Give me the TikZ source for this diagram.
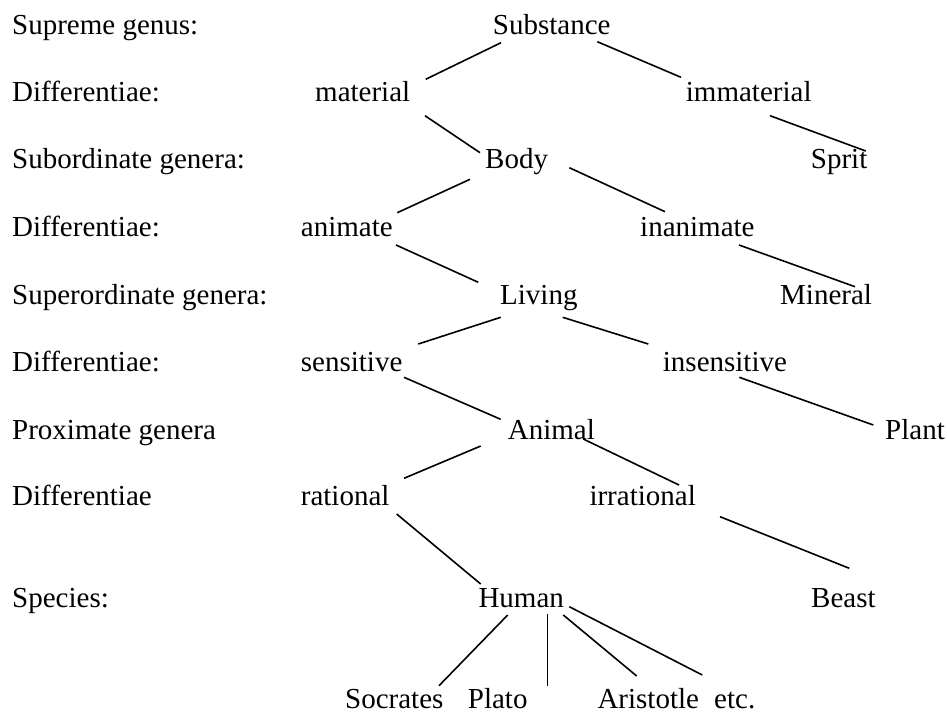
\documentclass[tikz,border=0pt]{standalone}
\usepackage{fontspec}
\setmainfont{Liberation Serif}
\begin{document}
\begin{tikzpicture}[x=1pt,y=-1pt,
  lbl/.style={anchor=base west,inner sep=0pt,font=\fontsize{29}{35}\selectfont},
  conn/.style={line width=1.6pt,line cap=butt}]
\useasboundingbox[fill=white] (0,0) rectangle (947,713);
% left column
\node[lbl] (l1) at (12,34.3) {Supreme genus:};
\node[lbl] (l2) at (12,101.3) {Differentiae:};
\node[lbl] (l3) at (12,168.3) {Subordinate genera:};
\node[lbl] (l4) at (12,236) {Differentiae:};
\node[lbl] (l5) at (12,304.7) {Superordinate genera:};
\node[lbl] (l6) at (12,371.7) {Differentiae:};
\node[lbl] (l7) at (12,439) {Proximate genera};
\node[lbl] (l8) at (12,505.7) {Differentiae};
\node[lbl] (l9) at (12,607.7) {Species:};
% tree
\node[lbl] (sub) at (492.7,34.3) {Substance};
\node[lbl] (mat) at (315,101.3) {material};
\node[lbl] (imm) at (685.7,101.3) {immaterial};
\node[lbl] (body) at (485,168.3) {Body};
\node[lbl] (spr) at (810.7,168.3) {Sprit};
\node[lbl] (ani) at (300.7,236) {animate};
\node[lbl] (inan) at (640,236) {inanimate};
\node[lbl] (liv) at (500,304.7) {Living};
\node[lbl] (min) at (780,304.7) {Mineral};
\node[lbl] (sen) at (300.7,371.7) {sensitive};
\node[lbl] (insen) at (662.7,371.7) {insensitive};
\node[lbl] (anim) at (507.7,439) {Animal};
\node[lbl] (pla) at (885,439) {Plant};
\node[lbl] (rat) at (300.7,505.7) {rational};
\node[lbl] (irr) at (589.3,505.7) {irrational};
\node[lbl] (hum) at (478.3,607.7) {Human};
\node[lbl] (bea) at (811,607.7) {Beast};
\node[lbl] (soc) at (345,708.3) {Socrates};
\node[lbl] (plato) at (467.7,708.3) {Plato};
\node[lbl] (ari) at (597.3,708.3) {Aristotle};
\node[lbl] (etc) at (714,708.3) {etc.};
% connector end points
\coordinate (sub-a) at (501,42.7);   \coordinate (mat-a) at (425.7,79.3);
\coordinate (sub-b) at (597.3,41.7); \coordinate (imm-a) at (681,77.3);
\coordinate (mat-b) at (425,115.7);  \coordinate (body-a) at (480,152.7);
\coordinate (imm-b) at (770,115.7);  \coordinate (spr-a) at (865.7,151);
\coordinate (body-b) at (470,179.3); \coordinate (ani-a) at (397.3,212.7);
\coordinate (body-c) at (569.3,167.7); \coordinate (inan-a) at (665,211.7);
\coordinate (ani-b) at (396,245);    \coordinate (liv-a) at (478.3,282.3);
\coordinate (inan-b) at (739,245);   \coordinate (min-a) at (855,286.7);
\coordinate (liv-b) at (500.7,317.3); \coordinate (sen-a) at (418.3,344);
\coordinate (liv-c) at (562.7,317.3); \coordinate (insen-a) at (648.3,344);
\coordinate (sen-b) at (404,377.3);  \coordinate (anim-a) at (500.7,419.3);
\coordinate (insen-b) at (739.3,377.3); \coordinate (pla-a) at (873.3,425);
\coordinate (anim-b) at (480.7,446); \coordinate (rat-a) at (404,478.3);
\coordinate (anim-c) at (583.3,439); \coordinate (irr-a) at (679,485);
\coordinate (rat-b) at (396.7,514);  \coordinate (hum-a) at (480.7,584);
\coordinate (irr-b) at (720,516.7);  \coordinate (bea-a) at (849.3,568.3);
\coordinate (hum-b) at (507.7,615);  \coordinate (soc-a) at (439,685.7);
\coordinate (hum-c) at (547.3,614.3); \coordinate (plato-a) at (547.3,686);
\coordinate (hum-d) at (563.3,615);  \coordinate (ari-a) at (636.7,676);
\coordinate (hum-e) at (569.3,606.7); \coordinate (etc-a) at (702.3,675);
% connectors
\draw[conn] (sub-a) -- (mat-a);
\draw[conn] (sub-b) -- (imm-a);
\draw[conn] (mat-b) -- (body-a);
\draw[conn] (imm-b) -- (spr-a);
\draw[conn] (body-b) -- (ani-a);
\draw[conn] (body-c) -- (inan-a);
\draw[conn] (ani-b) -- (liv-a);
\draw[conn] (inan-b) -- (min-a);
\draw[conn] (liv-b) -- (sen-a);
\draw[conn] (liv-c) -- (insen-a);
\draw[conn] (sen-b) -- (anim-a);
\draw[conn] (insen-b) -- (pla-a);
\draw[conn] (anim-b) -- (rat-a);
\draw[conn] (anim-c) -- (irr-a);
\draw[conn] (rat-b) -- (hum-a);
\draw[conn] (irr-b) -- (bea-a);
\draw[conn] (hum-b) -- (soc-a);
\draw[conn] (hum-c) -- (plato-a);
\draw[conn] (hum-d) -- (ari-a);
\draw[conn] (hum-e) -- (etc-a);
\end{tikzpicture}
\end{document}
